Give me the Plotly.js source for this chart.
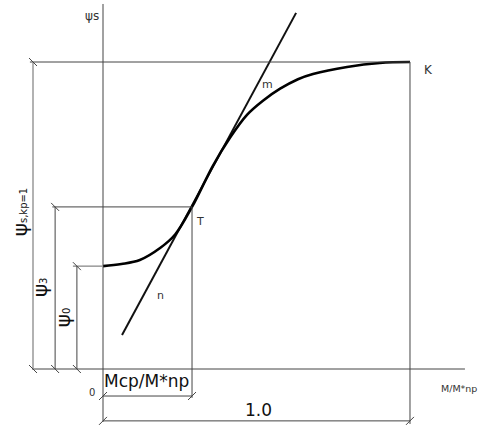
<!DOCTYPE html>
<html>
<head>
<meta charset="utf-8">
<script src="https://cdn.plot.ly/plotly-3.0.1.min.js"></script>
<style>html,body{margin:0;padding:0;background:#fff;}#chart{width:479px;height:425px;}</style>
</head>
<body>
<div id="chart"></div>
<script>
// Curve psi_s(M/M*np)
const curveX = [0, 0.06, 0.12, 0.186, 0.235, 0.29, 0.358, 0.414, 0.469, 0.521, 0.577, 0.635, 0.684, 0.795, 0.902, 1.0];
const curveY = [0.335, 0.342, 0.355, 0.394, 0.438, 0.528, 0.662, 0.754, 0.828, 0.874, 0.913, 0.944, 0.961, 0.984, 0.997, 1.0];
// Tangent line through T
const tangentX = [0.062, 0.629];
const tangentY = [0.111, 1.160];
// Key values
const mcpRatio = 0.29;   // Mcp/M*np
const psiT = 0.528;      // psi_3
const psi0 = 0.335;      // psi_0
const psiMax = 1.0;      // psi_s,kp=1
const xMax = 1.0;

const dark = '#444';
const grey = '#999';
const d = 0.013;
const shapes = [];
function seg(x0, y0, x1, y1, color, width) {
  shapes.push({type: 'line', xref: 'x', yref: 'y', x0: x0, y0: y0, x1: x1, y1: y1,
    line: {color: color || dark, width: width || 1}});
}
function tickV(x, y) { seg(x - d, y + d, x + d, y - d, dark, 1); }
function tickH(x, y) { seg(x - d, y - d, x + d, y + d, dark, 1); }

// Axes
seg(0, -0.172, 0, 1.189, dark, 1);
seg(-0.231, 0, 1.179, 0, dark, 1);
// top level and K vertical
seg(-0.238, psiMax, xMax, psiMax, dark, 1);
seg(xMax, psiMax, xMax, -0.179, dark, 1);
// left dimension psi_s,kp=1
seg(-0.228, psiMax, -0.228, 0, grey, 1.5);
tickV(-0.228, psiMax); tickV(-0.228, 0);
// psi_3 dimension
seg(-0.165, psiT, mcpRatio, psiT, dark, 1);
seg(-0.156, psiT, -0.156, 0, dark, 1);
tickV(-0.156, psiT); tickV(-0.156, 0);
// psi_0 dimension
seg(-0.098, psi0, 0, psi0, grey, 1.5);
seg(-0.085, psi0, -0.085, 0, dark, 1);
tickV(-0.085, psi0); tickV(-0.085, 0);
// T vertical
seg(mcpRatio, psiT, mcpRatio, -0.094, dark, 1);
// Mcp dimension
seg(0, -0.088, mcpRatio, -0.088, dark, 1);
tickH(0, -0.088); tickH(mcpRatio, -0.088);
// 1.0 dimension
seg(0, -0.169, xMax, -0.169, dark, 1);
tickH(0, -0.169); tickH(xMax, -0.169);

const traces = [
  {x: tangentX, y: tangentY, mode: 'lines', line: {color: '#111', width: 2}, hoverinfo: 'skip'},
  {x: curveX, y: curveY, mode: 'lines', line: {color: '#000', width: 2.6, shape: 'spline', smoothing: 1}, hoverinfo: 'skip'}
];

const fam = 'DejaVu Sans, Verdana, sans-serif';
const f = (size, color) => ({family: fam, size: size, color: color || '#333'});
function ann(text, x, y, size, opts) {
  return Object.assign({text: text, x: x, y: y, xref: 'x', yref: 'y', showarrow: false,
    font: f(size), xanchor: 'center', yanchor: 'middle'}, opts || {});
}
const sub = (s) => '<span style="font-size:10px">' + s + '</span>';
const annotations = [
  ann('ψs', -0.036, 1.150, 12),
  ann('K', 1.059, 0.974, 12),
  ann('m', 0.537, 0.928, 11),
  ann('T', 0.316, 0.482, 11),
  ann('n', 0.186, 0.238, 11),
  ann('0', -0.036, -0.075, 10),
  ann('M/M*np', 1.2245, -0.065, 9.5, {xanchor: 'right'}),
  ann('Mcp/M*np', 0.143, -0.039, 17, {font: f(17, '#111')}),
  ann('1.0', 0.505, -0.134, 17, {font: f(17, '#111')}),
  ann('ψ' + sub('s,kp=1'), -0.270, 0.511, 20, {textangle: -90, font: f(20, '#111')}),
  ann('ψ' + sub('3'), -0.205, 0.267, 20, {textangle: -90, font: f(20, '#111')}),
  ann('ψ' + sub('0'), -0.130, 0.169, 20, {textangle: -90, font: f(20, '#111')})
];

const layout = {
  width: 479, height: 425,
  margin: {l: 0, r: 0, t: 0, b: 0},
  paper_bgcolor: '#fff', plot_bgcolor: '#fff',
  showlegend: false,
  xaxis: {range: [-0.3355, 1.2248], visible: false, fixedrange: true},
  yaxis: {range: [-0.1824, 1.2020], visible: false, fixedrange: true},
  shapes: shapes,
  annotations: annotations
};
Plotly.newPlot('chart', traces, layout, {displayModeBar: false, staticPlot: true});
</script>
</body>
</html>
